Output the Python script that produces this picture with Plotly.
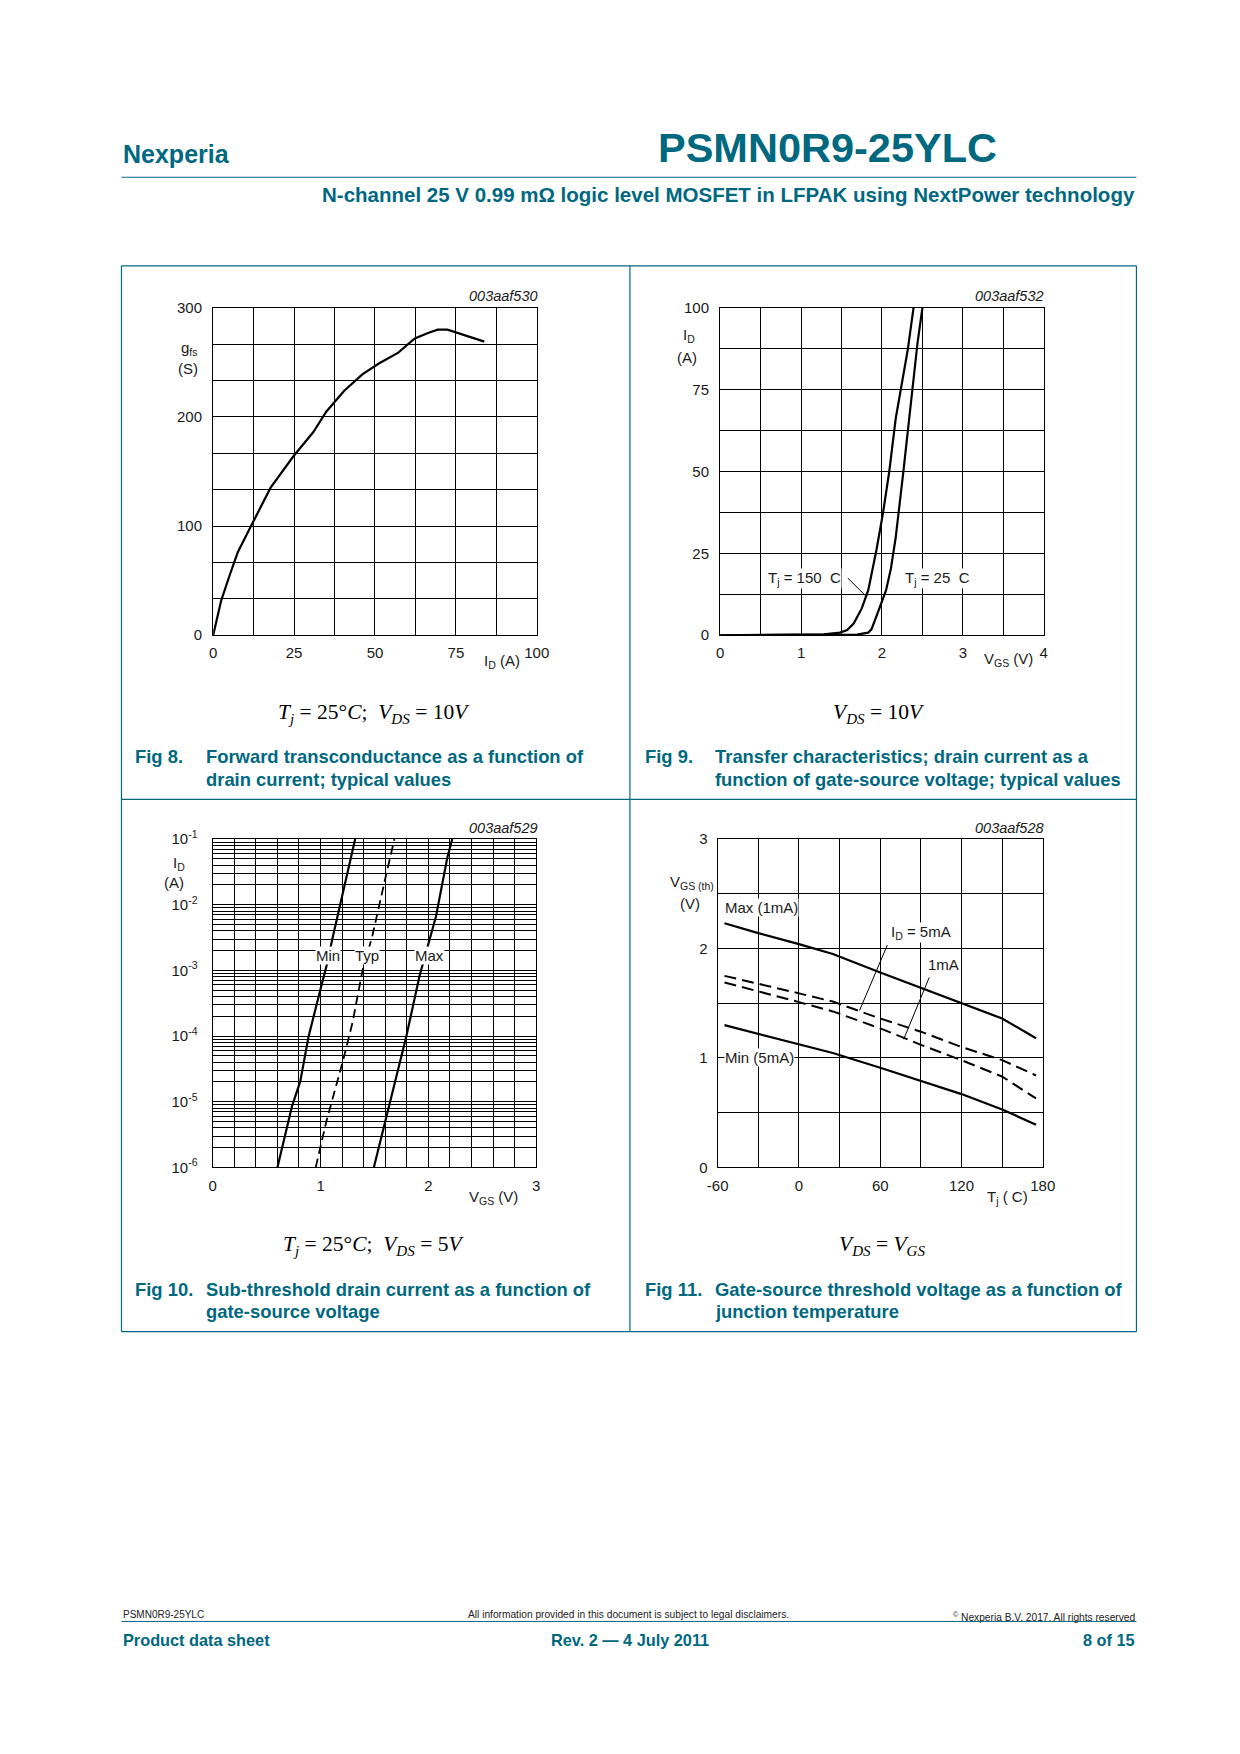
import plotly.graph_objects as go

W, H = 1240, 1754
TEAL = "#00687F"
SANS = "Liberation Sans, Arial, Helvetica, sans-serif"
SERIF = "Liberation Serif, Times New Roman, serif"

# ---------------- data ----------------
# Fig 8: forward transconductance vs drain current
fig8_id = [0, 1.0, 2.5, 5.1, 7.6, 11.7, 17.7, 24.8, 30.9, 35.0, 40.5, 46.1, 51.2, 57.2, 62.3, 66.4, 69.4, 72.4, 75.5, 79.5, 83.8]
fig8_gfs = [0, 14, 32, 55, 76, 100, 135, 164, 186, 205, 224, 239, 249, 259, 272, 277, 280, 280, 277, 273, 269]

# Fig 9: transfer characteristics
fig9_vgs_150 = [0, 1.0, 1.28, 1.48, 1.57, 1.65, 1.75, 1.83, 1.93, 2.01, 2.09, 2.17, 2.24, 2.32, 2.39]
fig9_id_150 = [0, 0.2, 0.3, 0.8, 1.6, 3.6, 8.2, 13.7, 25.8, 36.9, 50, 66.2, 76.3, 87.4, 100]
fig9_vgs_25 = [0, 1.0, 1.69, 1.83, 1.87, 1.93, 2.0, 2.05, 2.11, 2.17, 2.26, 2.32, 2.38, 2.44, 2.50]
fig9_id_25 = [0, 0.2, 0.2, 0.8, 1.8, 5.7, 10.2, 13.7, 20.3, 29.9, 49, 63.2, 76.3, 89.4, 100]

# Fig 10: sub-threshold drain current
fig10_vgs_min = [0.60, 0.736, 0.812, 0.888, 1.0, 1.055, 1.115, 1.2, 1.267, 1.321]
fig10_id_min = [1e-6, 8.6e-6, 2.04e-5, 9.7e-5, 5.2e-4, 1.17e-3, 3.3e-3, 1.32e-2, 4.2e-2, 1e-1]
fig10_vgs_typ = [0.955, 1.055, 1.206, 1.297, 1.388, 1.479, 1.6, 1.685]
fig10_id_typ = [1e-6, 5.1e-6, 4.1e-5, 1.62e-4, 9.8e-4, 3.3e-3, 2.5e-2, 1e-1]
fig10_vgs_max = [1.494, 1.585, 1.691, 1.797, 1.918, 1.994, 2.07, 2.176, 2.221]
fig10_id_max = [1e-6, 4.1e-6, 2.04e-5, 1.02e-4, 8.3e-4, 2.34e-3, 6.6e-3, 5.3e-2, 1e-1]
fig10_decades = [-6, -5, -4, -3, -2, -1]

# Fig 11: gate-source threshold voltage vs junction temperature
fig11_tj = [-55, -30, 0, 25, 60, 90, 120, 150, 175]
fig11_max_1ma = [2.23, 2.14, 2.04, 1.95, 1.78, 1.64, 1.50, 1.36, 1.18]
fig11_typ_5ma = [1.75, 1.68, 1.59, 1.515, 1.36, 1.24, 1.10, 0.98, 0.84]
fig11_typ_1ma = [1.69, 1.61, 1.51, 1.425, 1.27, 1.12, 0.98, 0.83, 0.63]
fig11_min_5ma = [1.30, 1.22, 1.13, 1.045, 0.91, 0.79, 0.67, 0.53, 0.39]
fig11_xticks = [-60, 0, 60, 120, 180]
fig11_xtick_text = ["-60", "0", "60", "120", "180"]


def px(x):
    return x / W


def py(y):
    return 1 - y / H


fig = go.Figure()
LINE = dict(color="black", width=2.2)

fig.add_trace(go.Scatter(x=fig8_id, y=fig8_gfs, xaxis="x", yaxis="y", mode="lines", line=LINE))
fig.add_trace(go.Scatter(x=fig9_vgs_150, y=fig9_id_150, xaxis="x2", yaxis="y2", mode="lines", line=LINE))
fig.add_trace(go.Scatter(x=fig9_vgs_25, y=fig9_id_25, xaxis="x2", yaxis="y2", mode="lines", line=LINE))
fig.add_trace(go.Scatter(x=fig10_vgs_min, y=fig10_id_min, xaxis="x3", yaxis="y3", mode="lines", line=LINE))
fig.add_trace(go.Scatter(x=fig10_vgs_typ, y=fig10_id_typ, xaxis="x3", yaxis="y3", mode="lines",
                         line=dict(color="black", width=1.8, dash="9px,5px")))
fig.add_trace(go.Scatter(x=fig10_vgs_max, y=fig10_id_max, xaxis="x3", yaxis="y3", mode="lines", line=LINE))
fig.add_trace(go.Scatter(x=fig11_tj, y=fig11_max_1ma, xaxis="x4", yaxis="y4", mode="lines", line=LINE))
fig.add_trace(go.Scatter(x=fig11_tj, y=fig11_typ_5ma, xaxis="x4", yaxis="y4", mode="lines",
                         line=dict(color="black", width=2.0, dash="12px,6px")))
fig.add_trace(go.Scatter(x=fig11_tj, y=fig11_typ_1ma, xaxis="x4", yaxis="y4", mode="lines",
                         line=dict(color="black", width=2.0, dash="12px,6px")))
fig.add_trace(go.Scatter(x=fig11_tj, y=fig11_min_5ma, xaxis="x4", yaxis="y4", mode="lines", line=LINE))

TICKFONT = dict(family=SANS, size=15, color="#1a1a1a")


def axis(domain, rng, dtick, minor, anchor, standoff, tick0=0, **kw):
    d = dict(domain=domain, range=rng, anchor=anchor, tick0=tick0, dtick=dtick,
             showgrid=True, gridcolor="black", gridwidth=1,
             showline=True, linecolor="black", linewidth=1.3, mirror=True,
             zeroline=False, ticks="", tickfont=TICKFONT, ticklabelstandoff=standoff,
             fixedrange=True)
    if minor is not None:
        d["minor"] = dict(dtick=minor, tick0=tick0, showgrid=True, gridcolor="black", gridwidth=1, ticks="")
    d.update(kw)
    return d


X8 = [px(198), px(528)]
X9 = [px(715), px(1045)]
Y_TOP = [py(623), py(292)]
X10 = [px(197.5), px(527.5)]
X11 = [px(712.5), px(1044)]
Y_BOT = [py(1161), py(829)]

# log ticks for fig 10
log_vals, log_text = [], []
for d in fig10_decades:
    for k in range(1, 10):
        if d == -1 and k > 1:
            break
        log_vals.append(k * 10.0 ** d)
        log_text.append(f"10<sup>{d}</sup>" if k == 1 else "")

fig.update_layout(
    width=W, height=H, margin=dict(l=0, r=0, t=0, b=0),
    paper_bgcolor="white", plot_bgcolor="white", showlegend=False,
    xaxis=axis(X8, [0, 100], 25, 12.5, "y", 4),
    yaxis=axis(Y_TOP, [0, 300], 100, 100 / 3, "x", 7),
    xaxis2=axis(X9, [0, 4], 1, 0.5, "y2", 4),
    yaxis2=axis(Y_TOP, [0, 100], 25, 12.5, "x2", 7),
    xaxis3=axis(X10, [0, 3], 1, 0.2, "y3", 4),
    yaxis3=dict(domain=Y_BOT, type="log", range=[-6, -1], anchor="x3",
                tickmode="array", tickvals=log_vals, ticktext=log_text,
                showgrid=True, gridcolor="black", gridwidth=1,
                showline=True, linecolor="black", linewidth=1.3, mirror=True,
                zeroline=False, ticks="", tickfont=TICKFONT, ticklabelstandoff=11, fixedrange=True),
    xaxis4=axis(X11, [-60, 180], 60, 30, "y4", 4, tick0=-60,
                tickmode="array", tickvals=fig11_xticks, ticktext=fig11_xtick_text),
    yaxis4=axis(Y_BOT, [0, 3], 1, 0.5, "x4", 6),
)

ann = []


def txt(x, y, text, size=15, xanchor="center", color="#1a1a1a", family=SANS, bg=None, xref="paper", yref="paper", **kw):
    a = dict(x=x, y=y, xref=xref, yref=yref, text=text, showarrow=False, xanchor=xanchor,
             yanchor="middle", font=dict(family=family, size=size, color=color))
    if bg:
        a["bgcolor"] = bg
        a["borderpad"] = 0
    a.update(kw)
    ann.append(a)


# header
txt(px(104), py(136), "<b>Nexperia</b>", size=25, xanchor="left", color=TEAL)
txt(px(650), py(130), "<b>PSMN0R9-25YLC</b>", size=41.5, xanchor="left", color=TEAL)
txt(px(1140), py(177), "<b>N-channel 25 V 0.99 mΩ logic level MOSFET in LFPAK using NextPower technology</b>",
    size=20.5, xanchor="right", color=TEAL)

# diagram codes
IT = dict(size=14.5)
txt(px(531), py(280), "<i>003aaf530</i>", xanchor="right", **IT)
txt(px(1047), py(280), "<i>003aaf532</i>", xanchor="right", **IT)
txt(px(531), py(818), "<i>003aaf529</i>", xanchor="right", **IT)
txt(px(1047), py(818), "<i>003aaf528</i>", xanchor="right", **IT)

# axis labels
txt(px(163), py(333), "g<sub>fs</sub>", xanchor="left")
txt(px(172), py(353), "(S)")
txt(px(472), py(650), "I<sub>D</sub> (A)", xanchor="left")
txt(px(675), py(320), "I<sub>D</sub>", xanchor="left")
txt(px(681), py(342), "(A)")
txt(px(982), py(648), "V<sub>GS</sub> (V)", xanchor="left")
txt(px(155), py(854), "I<sub>D</sub>", xanchor="left")
txt(px(158), py(873), "(A)")
txt(px(457), py(1191), "V<sub>GS</sub> (V)", xanchor="left")
txt(px(662), py(873), "V<sub>GS (th)</sub>", xanchor="left")
txt(px(684), py(894), "(V)")
txt(px(985), py(1191), "T<sub>j</sub> ( C)", xanchor="left")

# curve labels fig 9
txt(1.04, 17.3, "T<sub>j</sub> = 150  C", xref="x2", yref="y2", bg="white")
txt(2.69, 17.3, "T<sub>j</sub> = 25  C", xref="x2", yref="y2", bg="white")
ann.append(dict(x=1.80, y=12.0, xref="x2", yref="y2", ax=1.56, ay=17.9, axref="x2", ayref="y2",
                text="", showarrow=True, arrowhead=0, arrowwidth=1, arrowcolor="black"))

# curve labels fig 10 (log axis: y given as log10)
for name, xv in (("Min", 1.067), ("Typ", 1.43), ("Max", 2.01)):
    txt(xv, -2.78, name, xref="x3", yref="y3", bg="white")

# curve labels fig 11
txt(-55.6, 2.37, "Max (1mA)", xref="x4", yref="y4", xanchor="left", bg="white")
txt(-55.6, 1.0, "Min (5mA)", xref="x4", yref="y4", xanchor="left", bg="white")
txt(89.9, 2.15, "I<sub>D</sub> = 5mA", xref="x4", yref="y4", bg="white")
txt(106.5, 1.85, "1mA", xref="x4", yref="y4", bg="white")
ann.append(dict(x=44.7, y=1.433, xref="x4", yref="y4", ax=65.7, ay=2.045, axref="x4", ayref="y4",
                text="", showarrow=True, arrowhead=0, arrowwidth=1, arrowcolor="black"))
ann.append(dict(x=77.3, y=1.171, xref="x4", yref="y4", ax=96.6, ay=1.749, axref="x4", ayref="y4",
                text="", showarrow=True, arrowhead=0, arrowwidth=1, arrowcolor="black"))

# conditions (math style)
CS = 21.5
txt(px(362), py(702), "<i>T<sub>j</sub></i> = 25°<i>C</i>;  <i>V<sub>DS</sub></i> = 10<i>V</i>", family=SERIF, size=CS, color="black")
txt(px(877), py(702), "<i>V<sub>DS</sub></i> = 10<i>V</i>", family=SERIF, size=CS, color="black")
txt(px(362), py(1240), "<i>T<sub>j</sub></i> = 25°<i>C</i>;  <i>V<sub>DS</sub></i> = 5<i>V</i>", family=SERIF, size=CS, color="black")
txt(px(880), py(1240), "<i>V<sub>DS</sub></i> = <i>V<sub>GS</sub></i>", family=SERIF, size=CS, color="black")

# captions
CAP = dict(size=18.4, color=TEAL, xanchor="left")
captions = [
    (116.5, 188.5, 746, "Fig 8.", "Forward transconductance as a function of", "drain current; typical values"),
    (636, 707.5, 746, "Fig 9.", "Transfer characteristics; drain current as a", "function of gate-source voltage; typical values"),
    (116.5, 188.5, 1284, "Fig 10.", "Sub-threshold drain current as a function of", "gate-source voltage"),
    (636, 707.5, 1284, "Fig 11.", "Gate-source threshold voltage as a function of", "junction temperature"),
]
for xf, xt, yc, lab, l1, l2 in captions:
    txt(px(xf), py(yc), f"<b>{lab}</b>", **CAP)
    txt(px(xt), py(yc), f"<b>{l1}</b>", **CAP)
    txt(px(xt), py(yc + 23), f"<b>{l2}</b>", **CAP)

# footer
txt(px(104), py(1613), "PSMN0R9-25YLC", size=10, xanchor="left", color="#222")
txt(px(622), py(1613), "All information provided in this document is subject to legal disclaimers.", size=10.2, color="#222")
txt(px(1140), py(1616), "<sup>©</sup> Nexperia B.V. 2017. All rights reserved", size=10.2, xanchor="right", color="#222")
txt(px(104), py(1639), "<b>Product data sheet</b>", size=16.3, xanchor="left", color=TEAL)
txt(px(623), py(1639), "<b>Rev. 2 — 4 July 2011</b>", size=16.3, color=TEAL)
txt(px(1140), py(1639), "<b>8 of 15</b>", size=16.3, xanchor="right", color=TEAL)

fig.update_layout(annotations=ann)

# page lines and figure frame
shapes = []


def hline(y, x0, x1, w=1.2):
    shapes.append(dict(type="line", xref="paper", yref="paper", x0=px(x0), x1=px(x1), y0=py(y), y1=py(y),
                       line=dict(color=TEAL, width=w)))


def vline(x, y0, y1, w=1.2):
    shapes.append(dict(type="line", xref="paper", yref="paper", x0=px(x), x1=px(x), y0=py(y0), y1=py(y1),
                       line=dict(color=TEAL, width=w)))


hline(160, 104.5, 1139.5)
hline(249.5, 104.5, 1139.5)
hline(789, 104.5, 1139.5)
hline(1327, 104.5, 1139.5)
vline(104.5, 249.5, 1327)
vline(623, 249.5, 1327)
vline(1139.5, 249.5, 1327)
hline(1620, 104.5, 1139.5, w=1)
fig.update_layout(shapes=shapes)

fig.write_html("out.html")
